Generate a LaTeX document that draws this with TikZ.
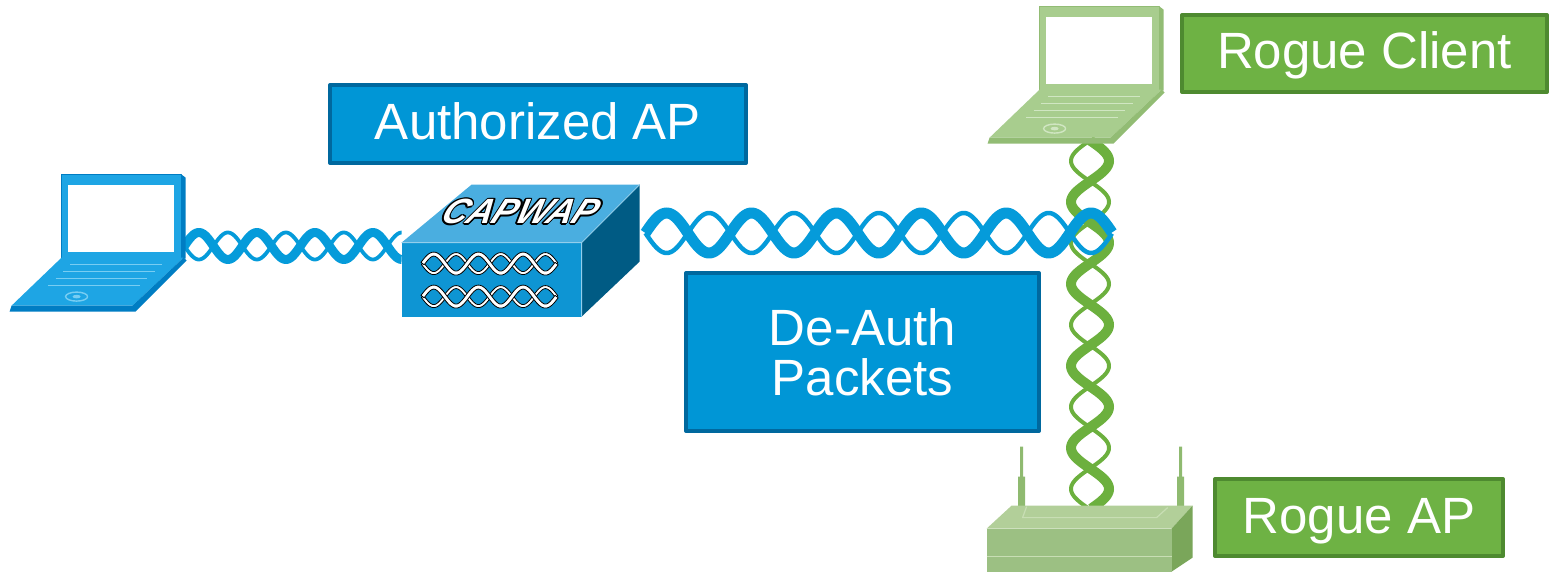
\documentclass[tikz,border=0pt]{standalone}
\usepackage{fontspec}
\setmainfont{Liberation Sans}
\usetikzlibrary{calc}

\definecolor{apblue}{RGB}{0,150,214}
\definecolor{apblueedge}{RGB}{0,104,158}
\definecolor{roguegreen}{RGB}{110,178,68}
\definecolor{roguegreenedge}{RGB}{78,138,48}
\definecolor{wifiblue}{RGB}{5,155,218}
\definecolor{wifigreen}{RGB}{108,176,62}
\definecolor{lapblue}{RGB}{30,165,228}
\definecolor{lapblueedge}{RGB}{0,125,195}
\definecolor{lapbluekey}{RGB}{120,205,242}
\definecolor{lapgreen}{RGB}{168,205,142}
\definecolor{lapgreenedge}{RGB}{146,188,116}
\definecolor{lapgreenkey}{RGB}{208,230,194}
\definecolor{boxtop}{RGB}{74,174,224}
\definecolor{boxfront}{RGB}{14,149,211}
\definecolor{boxside}{RGB}{0,91,132}
\definecolor{rapfront}{RGB}{156,192,131}
\definecolor{raptop}{RGB}{178,207,153}
\definecolor{rapside}{RGB}{122,166,90}
\definecolor{rapant}{RGB}{143,186,112}
\definecolor{rapline}{RGB}{200,222,180}

\tikzset{
  namebox/.style={rectangle,inner sep=0pt,line width=2pt,text=white,
    font=\fontsize{25.5}{25}\selectfont,align=center},
  bluebox/.style={namebox,fill=apblue,draw=apblueedge},
  greenbox/.style={namebox,fill=roguegreen,draw=roguegreenedge},
  device/.style={rectangle,inner sep=0pt},
  % two strands of a twisted pair, one heavy and one light
  declare function={
    hw(\t,\s)=\hthin+(\hthick-\hthin)*(1-\s)/2;
    hs(\t,\s)=\s*\hamp*pi/\hper*cos(\t/\hper*180);
    hx(\t,\s,\e)=\t-\e*hs(\t,\s)*hw(\t,\s)/(2*sqrt(1+hs(\t,\s)^2));
    hy(\t,\s,\e)=\s*\hamp*sin(\t/\hper*180)+\e*hw(\t,\s)/(2*sqrt(1+hs(\t,\s)^2));
  }
}

% \helixbody[opts]{length}{half period}{amplitude}{thin}{thick}
\newcommand{\helixbody}[6][]{%
  \def\hlen{#2}\def\hper{#3}\def\hamp{#4}\def\hthin{#5}\def\hthick{#6}%
  \pgfmathtruncatemacro\hsmp{#2/1.5+20}%
  \foreach \sg in {1,-1}{%
    \fill[#1] plot[variable=\t,domain=0:\hlen,samples=\hsmp] ({hx(\t,\sg,1)},{hy(\t,\sg,1)})
      -- plot[variable=\t,domain=\hlen:0,samples=\hsmp] ({hx(\t,\sg,-1)},{hy(\t,\sg,-1)}) -- cycle;
  }%
}

% \helixlink[opts]{from}{to}{half period}{amplitude}{thin}{thick}
\newcommand{\helixlink}[7][]{%
  \path let \p1=(#2), \p2=(#3) in \pgfextra{%
    \pgfmathsetmacro\hl{200*veclen((\x2-\x1)/100,(\y2-\y1)/100)}%
    \pgfmathsetmacro\ha{atan2(\y2-\y1,\x2-\x1)}%
    \xdef\linklen{\hl}\xdef\linkang{\ha}};
  \begin{scope}[shift={(#2)},rotate=\linkang]
    \helixbody[#1]{\linklen}{#4}{#5}{#6}{#7}
  \end{scope}%
}

% laptop, origin at the top left corner of the lid
\newcommand{\laptop}[3]{%
  \filldraw[fill=#1,draw=#2,line width=0.6pt] (0,0) rectangle (120,84);
  \fill[#2] (120,0) -- (124,3) -- (124,84) -- (120,84) -- cycle;
  \fill[white] (6,10) rectangle (112,77);
  \fill[#1] (0,83) -- (122,83) -- (71,131) -- (-50,131) -- cycle;
  \fill[#2] (-50,131) -- (71,131) -- (122,83) -- (125,86) -- (74,137) -- (-52,137) -- cycle;
  \foreach \ky in {90,97,104,111}
    \draw[#3,line width=0.7pt] ({-50*(\ky-83)/48+16},\ky) -- ({122-51*(\ky-83)/48-14},\ky);
  \draw[#3,line width=0.7pt] (15,122) ellipse (11 and 4.5);
  \fill[#3] (15,122) ellipse (4 and 1.8);
}

% white letters with a dark rim
\newcommand{\outlined}[1]{\leavevmode
  \rlap{\textcolor{black}{\kern-.7pt#1}}\rlap{\textcolor{black}{\kern.7pt#1}}%
  \rlap{\raisebox{.7pt}{\textcolor{black}{#1}}}\rlap{\raisebox{-.7pt}{\textcolor{black}{#1}}}%
  \rlap{\raisebox{.5pt}{\textcolor{black}{\kern.5pt#1}}}\rlap{\raisebox{-.5pt}{\textcolor{black}{\kern-.5pt#1}}}%
  \rlap{\raisebox{.5pt}{\textcolor{black}{\kern-.5pt#1}}}\rlap{\raisebox{-.5pt}{\textcolor{black}{\kern.5pt#1}}}%
  \textcolor{white}{#1}}

\begin{document}
\begin{tikzpicture}[x=0.5pt,y=-0.5pt,line join=round]
\useasboundingbox (0,0) rectangle (1551,572);

% devices
\node[device,minimum width=86pt,minimum height=68.5pt] (lapL) at (98,243.5) {};
\node[device,minimum width=119pt,minimum height=66pt] (ap) at (521,251) {};
\node[device,minimum width=86pt,minimum height=66.5pt] (lapR) at (1076,73.5) {};
\node[device,minimum width=103pt,minimum height=62.5pt] (rogue) at (1090,509.5) {};
\coordinate (tip) at (1112,233);

% radio links
\helixlink[wifigreen]{$(lapR.south)+(14,0)$}{$(rogue.north)+(0,62)$}{41}{19}{4}{10}
\helixlink[wifiblue]{$(ap.east)+(5,-18)$}{tip}{42.45}{20}{4.5}{11}
\helixlink[wifiblue]{$(lapL.east)+(0,2.5)$}{$(ap.west)+(0,-5)$}{29}{13.5}{3.8}{9}

% client laptops
\begin{scope}[shift={($(lapL.north west)+(50,0)$)}]
  \laptop{lapblue}{lapblueedge}{lapbluekey}
\end{scope}
\begin{scope}[shift={($(lapR.north west)+(50,0)$)}]
  \laptop{lapgreen}{lapgreenedge}{lapgreenkey}
\end{scope}

% authorized access point
\begin{scope}[shift={(ap.north west)}]
  \fill[boxtop] (0,58) -- (70,0) -- (238,0) -- (180,58) -- cycle;
  \fill[boxside] (180,58) -- (238,0) -- (238,77) -- (180,132) -- cycle;
  \fill[boxfront] (0,58) rectangle (180,132);
  \draw[boxtop!60!white,line width=0.5pt] (0,58) -- (180,58) -- (238,0) (180,58) -- (180,132);
  \begin{scope}[shift={(21,79)}]
    \helixbody[white,draw=black,line width=0.4pt]{134}{22.33}{9.5}{3}{4}
  \end{scope}
  \begin{scope}[shift={(21,112)}]
    \helixbody[white,draw=black,line width=0.4pt]{134}{22.33}{9.5}{3}{4}
  \end{scope}
  \node[inner sep=0pt,xslant=0.45,font=\fontsize{17.5}{18}\selectfont\bfseries\itshape]
    (capwap) at (120,27) {\outlined{CAPWAP}};
\end{scope}

% rogue access point
\begin{scope}[shift={(rogue.north west)}]
  \fill[rapant] (33.5,0) rectangle (36.5,32) (31.5,30) rectangle (38.5,62);
  \fill[rapant] (192.5,0) rectangle (195.5,32) (190.5,30) rectangle (197.5,62);
  \fill[raptop] (0,82) -- (25,59) -- (206,59) -- (185,82) -- cycle;
  \fill[rapside] (185,82) -- (206,59) -- (206,111) -- (185,125) -- cycle;
  \fill[rapfront] (0,82) rectangle (185,125);
  \draw[rapline,line width=0.6pt] (40,60) -- (36,71) -- (170,71) -- (181,61);
  \draw[rapline,line width=0.6pt] (0,110) -- (185,110);
\end{scope}

% labels
\node[bluebox,minimum width=208pt,minimum height=39pt,text height=19.5pt,text depth=4pt]
  (auth) at (538,124) {Authorized AP};
\node[bluebox,minimum width=176.5pt,minimum height=79pt] (deauth) at (862.5,352) {De-Auth\\Packets};
\node[greenbox,minimum width=182.5pt,minimum height=38.5pt,text height=19.5pt,text depth=4pt]
  (rclient) at (1364.5,53.5) {Rogue Client};
\node[greenbox,minimum width=144pt,minimum height=38.5pt,text height=19.5pt,text depth=4pt]
  (rap) at (1359,517.5) {Rogue AP};
\end{tikzpicture}
\end{document}
